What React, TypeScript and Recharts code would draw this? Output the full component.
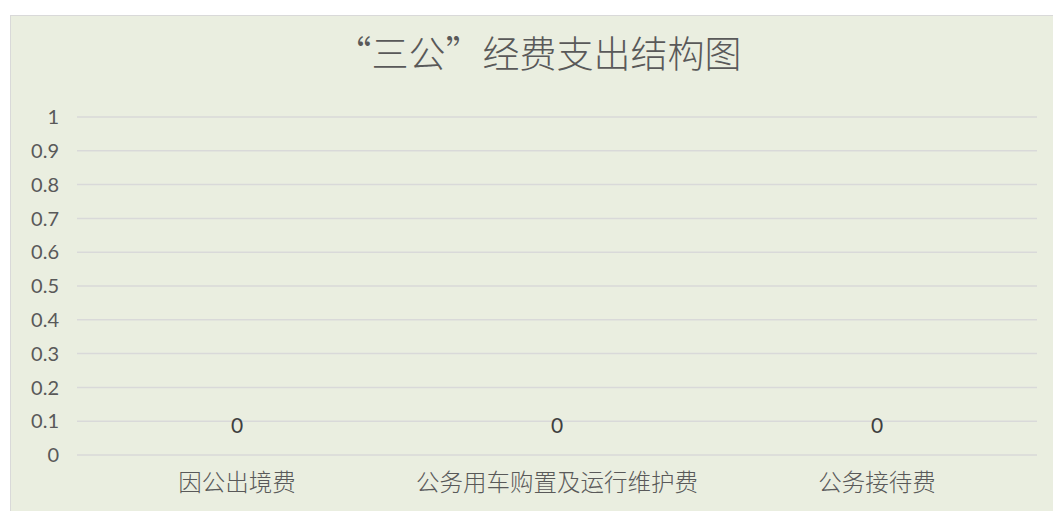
import { ComposedChart, Bar, Line, XAxis, YAxis, CartesianGrid } from "recharts";

const categories = ["因公出境费", "公务用车购置及运行维护费", "公务接待费"];
const values = [0, 0, 0];
const yTicks = [0, 0.1, 0.2, 0.3, 0.4, 0.5, 0.6, 0.7, 0.8, 0.9, 1];

const rows = categories.map((name, i) => ({ name, value: values[i] }));

const cjk = '"Noto Sans CJK SC", "Noto Sans", sans-serif';
const latin = 'Lato, "Open Sans", sans-serif';

function ValueLabel(props: any) {
  const { x, y, value } = props;
  if (x == null || y == null) return null;
  return (
    <text
      x={x}
      y={y - 22}
      textAnchor="middle"
      fill="#404040"
      fontSize={21}
      fontFamily={latin}
    >
      {value}
    </text>
  );
}

export default function App() {
  return (
    <div style={{ position: "fixed", left: 0, top: 0, width: 1053, height: 511, background: "#fff", overflow: "hidden" }}>
      <div
        style={{
          position: "absolute",
          left: 10,
          top: 15,
          width: 1060,
          height: 510,
          background: "#EAEEE0",
          border: "1px solid #D9D9D9",
        }}
      >
        <div
          style={{
            position: "absolute",
            left: 227,
            top: 14,
            width: 600,
            textAlign: "center",
            whiteSpace: "nowrap",
            fontFamily: cjk,
            fontWeight: 300,
            fontSize: 37,
            lineHeight: "44px",
            color: "#595959",
          }}
        >
          “三公”经费支出结构图
        </div>
        <ComposedChart
          width={1050}
          height={500}
          data={rows}
          margin={{ top: 101, right: 24, left: 16, bottom: 11 }}
        >
          <CartesianGrid vertical={false} stroke="#D9D9D9" strokeWidth={1.5} />
          <XAxis
            dataKey="name"
            axisLine={false}
            tickLine={false}
            height={50}
            tick={{ fill: "#595959", fontSize: 23.5, fontFamily: cjk, fontWeight: 300 }}
            tickMargin={13}
          />
          <YAxis
            domain={[0, 1]}
            ticks={yTicks}
            axisLine={false}
            tickLine={false}
            width={50}
            tickMargin={12}
            interval={0}
            tick={{ fill: "#595959", fontSize: 20, fontFamily: latin }}
          />
          <Bar dataKey="value" fill="#4472C4" isAnimationActive={false} />
          <Line
            dataKey="value"
            stroke="none"
            dot={false}
            activeDot={false}
            isAnimationActive={false}
            label={<ValueLabel />}
          />
        </ComposedChart>
      </div>
    </div>
  );
}
